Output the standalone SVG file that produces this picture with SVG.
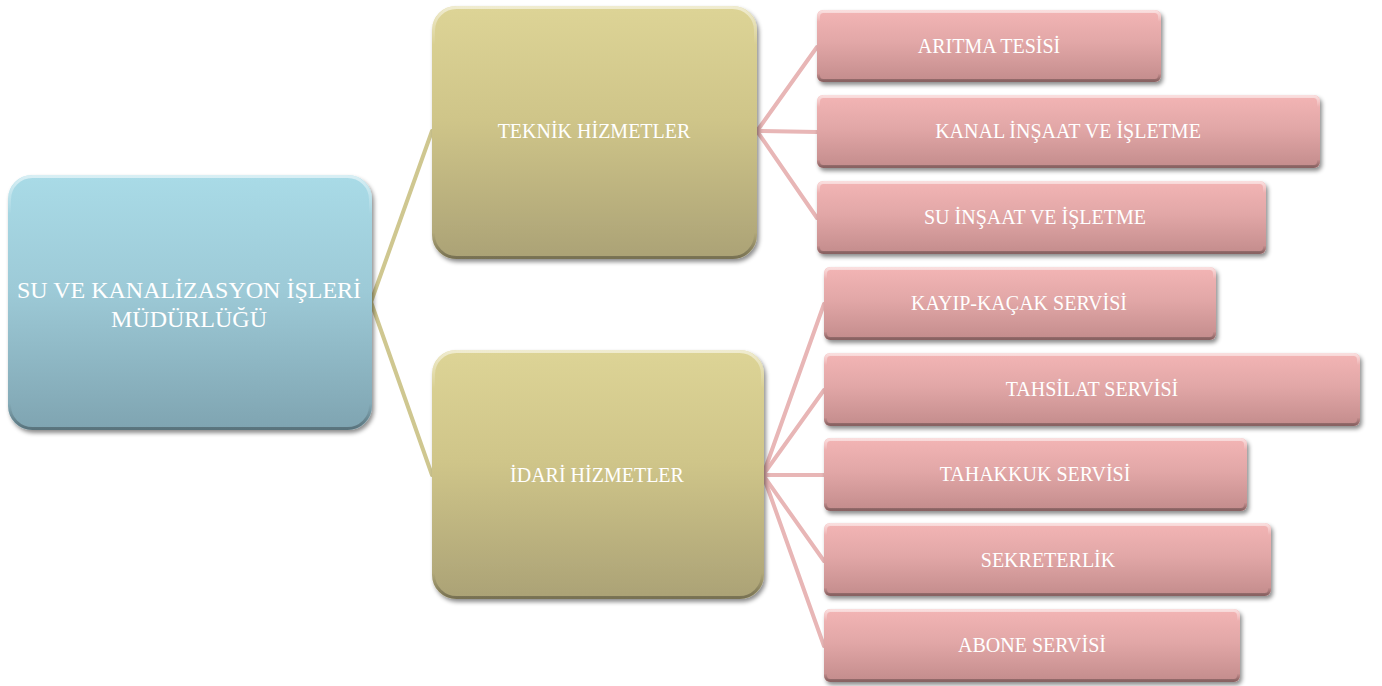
<svg xmlns="http://www.w3.org/2000/svg" width="1382" height="686" viewBox="0 0 1382 686">
  <defs>
    <linearGradient id="gBlue" x1="0" y1="0" x2="0" y2="1">
      <stop offset="0" stop-color="#a9dbe7"/>
      <stop offset="0.45" stop-color="#9dcad7"/>
      <stop offset="1" stop-color="#7fa4b1"/>
    </linearGradient>
    <linearGradient id="gKhaki" x1="0" y1="0" x2="0" y2="1">
      <stop offset="0" stop-color="#ddd496"/>
      <stop offset="0.45" stop-color="#cfc589"/>
      <stop offset="1" stop-color="#aba276"/>
    </linearGradient>
    <linearGradient id="gPink" x1="0" y1="0" x2="0" y2="1">
      <stop offset="0" stop-color="#f3b5b5"/>
      <stop offset="0.45" stop-color="#e2a7a7"/>
      <stop offset="1" stop-color="#c38c8c"/>
    </linearGradient>
    <linearGradient id="gShine" x1="0" y1="0" x2="0" y2="1">
      <stop offset="0" stop-color="#ffffff" stop-opacity="0.55"/>
      <stop offset="0.15" stop-color="#ffffff" stop-opacity="0"/>
      <stop offset="0.9" stop-color="#000000" stop-opacity="0"/>
      <stop offset="1" stop-color="#000000" stop-opacity="0.3"/>
    </linearGradient>
    <filter id="shadow" x="-10%" y="-10%" width="125%" height="130%">
      <feDropShadow dx="2" dy="3" stdDeviation="2.2" flood-color="#000" flood-opacity="0.45"/>
    </filter>
  </defs>
  <style>
    .lbl { font-family: "Liberation Serif", "DejaVu Serif", serif; fill: #ffffff; text-anchor: middle; dominant-baseline: central; }
    .big { font-size: 24px; }
    .mid { font-size: 20px; }
    .sm { font-size: 20px; }
    .shine { fill: none; stroke: url(#gShine); stroke-width: 3; }
    .edge { fill: none; stroke-linecap: round; stroke-width: 4; }
    .khakiLine { stroke: #cfc790; }
    .pinkLine { stroke: #e8b6b6; }
  </style>

  <!-- connectors -->
  <g id="connectors">
    <path class="edge khakiLine" d="M371 302 L432 131"/>
    <path class="edge khakiLine" d="M371 302 L432 475"/>
    <path class="edge pinkLine" d="M757 131 L817 47"/>
    <path class="edge pinkLine" d="M757 131 L817 132"/>
    <path class="edge pinkLine" d="M757 131 L817 218"/>
    <path class="edge pinkLine" d="M763 475 L824 304"/>
    <path class="edge pinkLine" d="M763 475 L824 390"/>
    <path class="edge pinkLine" d="M763 475 L824 475"/>
    <path class="edge pinkLine" d="M763 475 L824 561"/>
    <path class="edge pinkLine" d="M763 475 L824 646"/>
  </g>

  <!-- root -->
  <g id="root">
    <rect x="8" y="175" width="364" height="255" rx="24" fill="url(#gBlue)" filter="url(#shadow)"/>
    <rect x="9.5" y="176.5" width="361" height="252" rx="23" class="shine"/>
    <text class="lbl big" x="189" y="290">SU VE KANALİZASYON İŞLERİ</text>
    <text class="lbl big" x="189" y="319">MÜDÜRLÜĞÜ</text>
  </g>

  <!-- level 1 -->
  <g id="teknik">
    <rect x="432" y="6" width="325" height="253" rx="24" fill="url(#gKhaki)" filter="url(#shadow)"/>
    <rect x="433.5" y="7.5" width="322" height="250" rx="23" class="shine"/>
    <text class="lbl mid" x="594" y="131">TEKNİK HİZMETLER</text>
  </g>
  <g id="idari">
    <rect x="432" y="350" width="332" height="249" rx="24" fill="url(#gKhaki)" filter="url(#shadow)"/>
    <rect x="433.5" y="351.5" width="329" height="246" rx="23" class="shine"/>
    <text class="lbl mid" x="597" y="475">İDARİ HİZMETLER</text>
  </g>

  <!-- level 2: teknik -->
  <g id="aritma">
    <rect x="817" y="10" width="344" height="72" rx="6" fill="url(#gPink)" filter="url(#shadow)"/>
    <rect x="818.5" y="11.5" width="341" height="69" rx="5" class="shine"/>
    <text class="lbl sm" x="989" y="46">ARITMA TESİSİ</text>
  </g>
  <g id="kanal">
    <rect x="817" y="95" width="503" height="73" rx="6" fill="url(#gPink)" filter="url(#shadow)"/>
    <rect x="818.5" y="96.5" width="500" height="70" rx="5" class="shine"/>
    <text class="lbl sm" x="1068" y="131">KANAL İNŞAAT VE İŞLETME</text>
  </g>
  <g id="su">
    <rect x="817" y="181" width="449" height="73" rx="6" fill="url(#gPink)" filter="url(#shadow)"/>
    <rect x="818.5" y="182.5" width="446" height="70" rx="5" class="shine"/>
    <text class="lbl sm" x="1035" y="217">SU İNŞAAT VE İŞLETME</text>
  </g>

  <!-- level 2: idari -->
  <g id="kayip">
    <rect x="824" y="267" width="392" height="73" rx="6" fill="url(#gPink)" filter="url(#shadow)"/>
    <rect x="825.5" y="268.5" width="389" height="70" rx="5" class="shine"/>
    <text class="lbl sm" x="1019" y="303">KAYIP-KAÇAK SERVİSİ</text>
  </g>
  <g id="tahsilat">
    <rect x="824" y="353" width="536" height="73" rx="6" fill="url(#gPink)" filter="url(#shadow)"/>
    <rect x="825.5" y="354.5" width="533" height="70" rx="5" class="shine"/>
    <text class="lbl sm" x="1092" y="389">TAHSİLAT SERVİSİ</text>
  </g>
  <g id="tahakkuk">
    <rect x="824" y="438" width="423" height="73" rx="6" fill="url(#gPink)" filter="url(#shadow)"/>
    <rect x="825.5" y="439.5" width="420" height="70" rx="5" class="shine"/>
    <text class="lbl sm" x="1035" y="474">TAHAKKUK SERVİSİ</text>
  </g>
  <g id="sekreterlik">
    <rect x="824" y="523" width="447" height="73" rx="6" fill="url(#gPink)" filter="url(#shadow)"/>
    <rect x="825.5" y="524.5" width="444" height="70" rx="5" class="shine"/>
    <text class="lbl sm" x="1048" y="560">SEKRETERLİK</text>
  </g>
  <g id="abone">
    <rect x="824" y="609" width="416" height="73" rx="6" fill="url(#gPink)" filter="url(#shadow)"/>
    <rect x="825.5" y="610.5" width="413" height="70" rx="5" class="shine"/>
    <text class="lbl sm" x="1032" y="645">ABONE SERVİSİ</text>
  </g>
</svg>
